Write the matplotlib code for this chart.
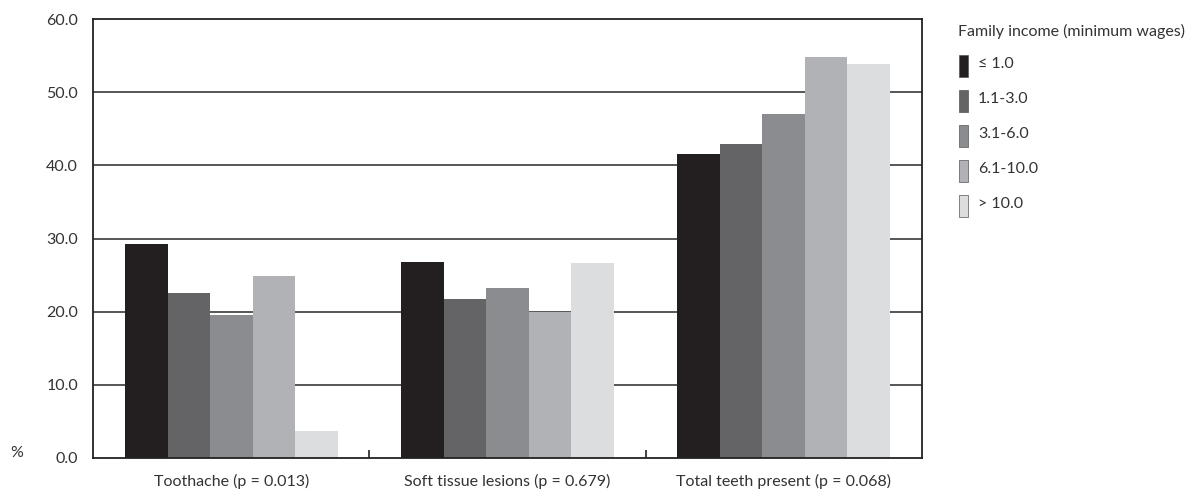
import numpy as np
import matplotlib
matplotlib.use("Agg")
import matplotlib.pyplot as plt
from matplotlib.patches import Rectangle

plt.rcParams["font.family"] = ["Lato", "DejaVu Sans"]

categories = [
    "Toothache (p = 0.013)",
    "Soft tissue lesions (p = 0.679)",
    "Total teeth present (p = 0.068)",
]
income_groups = ["\u2264 1.0", "1.1-3.0", "3.1-6.0", "6.1-10.0", "> 10.0"]
le_1 = [29.2, 26.8, 41.5]
from_1_to_3 = [22.6, 21.7, 42.9]
from_3_to_6 = [19.5, 23.2, 47.0]
from_6_to_10 = [24.8, 19.9, 54.9]
above_10 = [3.7, 26.7, 53.9]
y_ticks = [0, 10, 20, 30, 40, 50, 60]

COLORS = ["#231f20", "#646466", "#8b8c8f", "#b1b2b5", "#dcdddf"]
BAR_W = 0.154
FS = 11.5
TXT = "#333333"

W, H = 1202, 491
fig = plt.figure(figsize=(W / 100, H / 100), dpi=100)
ax = fig.add_axes([93.3 / W, 1 - 457.7 / H, (921.7 - 93.3) / W, (457.7 - 19.3) / H])

series = [le_1, from_1_to_3, from_3_to_6, from_6_to_10, above_10]
x = np.arange(len(categories))
for i, (vals, col) in enumerate(zip(series, COLORS)):
    ax.bar(x + (i - 2) * BAR_W, vals, width=BAR_W, color=col, zorder=2)

ax.set_xlim(-0.5, len(categories) - 0.5)
ax.set_ylim(0, 60)
ax.set_yticks(y_ticks)
ax.set_yticklabels([f"{v:.1f}" for v in y_ticks], fontsize=FS, color=TXT)
for v in y_ticks[1:-1]:
    ax.axhline(v, color="#3a3a3a", lw=1.2, zorder=1)
ax.tick_params(axis="y", length=0, pad=11)

ax.set_xticks(x)
ax.set_xticklabels(categories, fontsize=FS, color=TXT)
ax.tick_params(axis="x", which="major", length=0, pad=12)
ax.set_xticks([0.5, 1.5], minor=True)
ax.tick_params(axis="x", which="minor", direction="in", length=6, width=1.2, color="#222222")

for s in ax.spines.values():
    s.set_color("#222222")
    s.set_linewidth(1.3)

fig.text(10 / W, 1 - 453 / H, "%", fontsize=FS, color=TXT, va="center", ha="left")

# legend, placed by hand
fig.text(958 / W, 1 - 31 / H, "Family income (minimum wages)", fontsize=FS,
         color=TXT, va="center", ha="left")
for i, (lab, col) in enumerate(zip(income_groups, COLORS)):
    yc = 66 + i * 35
    fig.add_artist(Rectangle((959 / W, 1 - (yc + 11) / H), 9 / W, 22 / H,
                             transform=fig.transFigure, facecolor=col,
                             edgecolor="#555555", linewidth=0.5))
    fig.text(978 / W, 1 - (yc - 2) / H, lab, fontsize=FS, color=TXT,
             va="center", ha="left")

fig.savefig("out.png", dpi=100)
